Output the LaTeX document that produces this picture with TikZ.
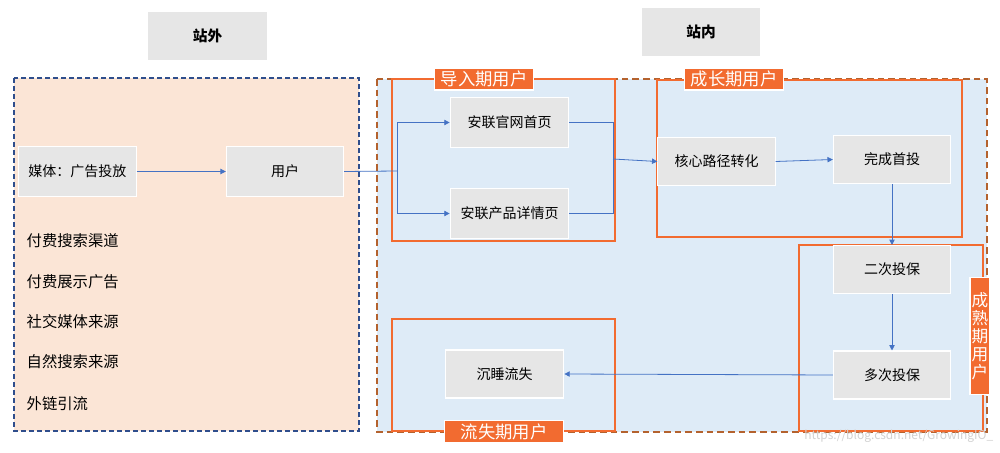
\documentclass[tikz,border=0pt]{standalone}
\usepackage{fontspec}
\setmainfont{Noto Sans CJK SC}
\usetikzlibrary{arrows.meta}
\definecolor{peach}{HTML}{FBE5D6}
\definecolor{lblue}{HTML}{DEEBF7}
\definecolor{navy}{HTML}{2F4E8C}
\definecolor{brn}{HTML}{B4622E}
\definecolor{org}{HTML}{F26B30}
\definecolor{gbox}{HTML}{E6E6E6}
\definecolor{arr}{HTML}{4472C4}
\begin{document}
\begin{tikzpicture}[x=0.75pt,y=-0.75pt,
  box/.style={fill=gbox,draw=white,line width=0.8pt,font=\fontsize{10.5}{12}\selectfont},
  hdr/.style={fill=gbox,font=\bfseries\fontsize{11}{13}\selectfont},
  stage/.style={draw=org,line width=1.5pt},
  tag/.style={fill=org,draw=white,line width=1pt,text=white,font=\fontsize{13}{14}\selectfont,inner sep=0pt},
  ar/.style={draw=arr,line width=0.6pt,-{Triangle[length=4pt,width=4pt]}},
  ln/.style={draw=arr,line width=0.6pt},
  lst/.style={anchor=west,font=\fontsize{11.5}{13}\selectfont}]
\useasboundingbox (0,0) rectangle (1000,453);
\fill[white] (0,0) rectangle (1000,453);
\node[hdr,minimum width=89pt,minimum height=36pt] (out) at (207.5,36) {站外};
\node[hdr,minimum width=88.5pt,minimum height=36pt] (in) at (701,32) {站内};
\draw[navy,line width=1.2pt,fill=peach,dash pattern=on 4pt off 2pt] (14,78) rectangle (359,431);
\draw[brn,line width=1.2pt,fill=lblue,dash pattern=on 5pt off 3pt] (377,79) rectangle (987,432);
\node[box,minimum width=88pt,minimum height=37pt] (media) at (77.5,171.5) {媒体：广告投放};
\node[box,minimum width=88pt,minimum height=37pt] (user) at (285,171.5) {用户};
\node[lst] (l1) at (22,241) {付费搜索渠道};
\node[lst] (l2) at (22,282) {付费展示广告};
\node[lst] (l3) at (22,322) {社交媒体来源};
\node[lst] (l4) at (22,362) {自然搜索来源};
\node[lst] (l5) at (22,404) {外链引流};
\draw[stage] (392,79) rectangle (615,241);
\draw[stage] (657,80) rectangle (962,237);
\draw[stage] (799,245) rectangle (983,431);
\draw[stage] (392,319) rectangle (615,431);
\node[box,minimum width=89pt,minimum height=37pt] (home) at (509.5,122.5) {安联官网首页};
\node[box,minimum width=89pt,minimum height=37pt] (prod) at (509.5,213.5) {安联产品详情页};
\node[box,minimum width=88pt,minimum height=36pt] (core) at (716.5,161.5) {核心路径转化};
\node[box,minimum width=88pt,minimum height=36pt] (first) at (892,159.5) {完成首投};
\node[box,minimum width=88pt,minimum height=36pt] (second) at (892,269.5) {二次投保};
\node[box,minimum width=88pt,minimum height=36pt] (multi) at (892,375) {多次投保};
\node[box,minimum width=89pt,minimum height=36pt] (sleep) at (504.5,374) {沉睡流失};
\node[tag,minimum width=74pt,minimum height=16.5pt] (t1) at (484,79) {导入期用户};
\node[tag,minimum width=74pt,minimum height=16.5pt] (t2) at (734,79) {成长期用户};
\node[tag,minimum width=89pt,minimum height=17pt] (t4) at (504,431.5) {流失期用户};
\node[tag,minimum width=15pt,minimum height=88pt,align=center,font=\fontsize{12.5}{13.5}\selectfont] (t3) at (980,336) {成\\熟\\期\\用\\户};
\coordinate (j1) at (397,171);
\coordinate (j2) at (613,159);
\draw[ln] (user.east) -- (j1);
\draw[ar] (j1) |- (home.west);
\draw[ar] (j1) |- (prod.west);
\draw[ln] (home.east) -| (j2);
\draw[ln] (prod.east) -| (j2);
\draw[ar] (j2) -- (core.west);
\draw[ar] (core.east) -- (first.west);
\draw[ar] (first.south) -- (second.north);
\draw[ar] (second.south) -- (multi.north);
\draw[ar] (multi.west) -- (sleep.east);
\draw[ar] (media.east) -- (user.west);
\node[anchor=east,text=gray!35,font=\fontsize{9}{11}\selectfont] (wm) at (998,436) {https://blog.csdn.net/GrowingIO\_};
\end{tikzpicture}
\end{document}
